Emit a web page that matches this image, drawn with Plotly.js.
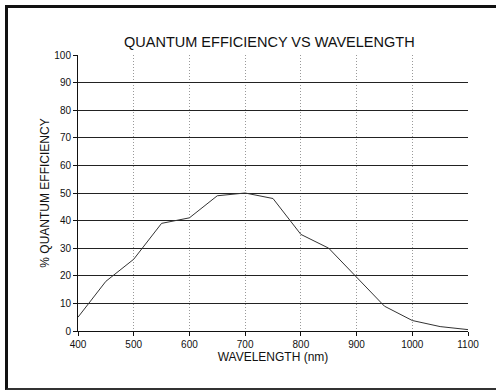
<!DOCTYPE html>
<html><head><meta charset="utf-8">
<script src="https://cdn.plot.ly/plotly-3.0.1.min.js"></script>
<style>
html,body{margin:0;padding:0;background:#fff;overflow:hidden;}
#frame{position:absolute;left:5px;top:5px;width:520px;height:380px;border-top:3px solid #111;border-left:3px solid #111;border-bottom:2px solid #333;}
#chart{position:absolute;left:0;top:0;width:496px;height:390px;}
</style></head>
<body>
<div id="frame"></div>
<div id="chart"></div>
<script>
const wavelength = [400, 450, 500, 550, 600, 650, 700, 750, 800, 850, 900, 950, 1000, 1050, 1100];
const efficiency = [5, 18, 26, 39, 41, 49, 50, 48, 35, 30, 19.5, 9, 3.8, 1.6, 0.5];
const xTicks = [400, 500, 600, 700, 800, 900, 1000, 1100];
const yTicks = [0, 10, 20, 30, 40, 50, 60, 70, 80, 90, 100];

const font = "Liberation Sans, Arial, sans-serif";
Plotly.newPlot('chart', [{
  x: wavelength, y: efficiency, type: 'scatter', mode: 'lines',
  line: {color: '#333', width: 1}, hoverinfo: 'skip'
}], {
  width: 496, height: 390,
  margin: {l: 78, r: 28, t: 55, b: 59},
  paper_bgcolor: 'rgba(0,0,0,0)', plot_bgcolor: 'rgba(0,0,0,0)',
  showlegend: false,
  title: {text: 'QUANTUM EFFICIENCY VS WAVELENGTH', font: {family: font, size: 14.5, color: '#111'},
          x: 0.543, xanchor: 'center', y: 0.893, yanchor: 'middle'},
  xaxis: {
    range: [400, 1100], tickvals: xTicks, ticktext: xTicks.map(String),
    showgrid: true, gridcolor: '#999', griddash: '1px,2px', gridwidth: 1,
    showline: true, linecolor: '#111', linewidth: 1,
    ticks: 'outside', ticklen: 4, tickcolor: '#111',
    tickfont: {family: font, size: 10, color: '#111'}, zeroline: false,
    title: {text: 'WAVELENGTH (nm)', font: {family: font, size: 12, color: '#111'}, standoff: 3}
  },
  yaxis: {
    range: [0, 100], tickvals: yTicks, ticktext: yTicks.map(String),
    showgrid: true, gridcolor: '#222', gridwidth: 1,
    showline: true, linecolor: '#111', linewidth: 1,
    ticks: 'outside', ticklen: 4, tickcolor: '#111',
    tickfont: {family: font, size: 10, color: '#111'}, zeroline: false,
    title: {text: '% QUANTUM EFFICIENCY', font: {family: font, size: 12, color: '#111'}, standoff: 2}
  }
}, {displayModeBar: false, staticPlot: true});
</script>
</body></html>
